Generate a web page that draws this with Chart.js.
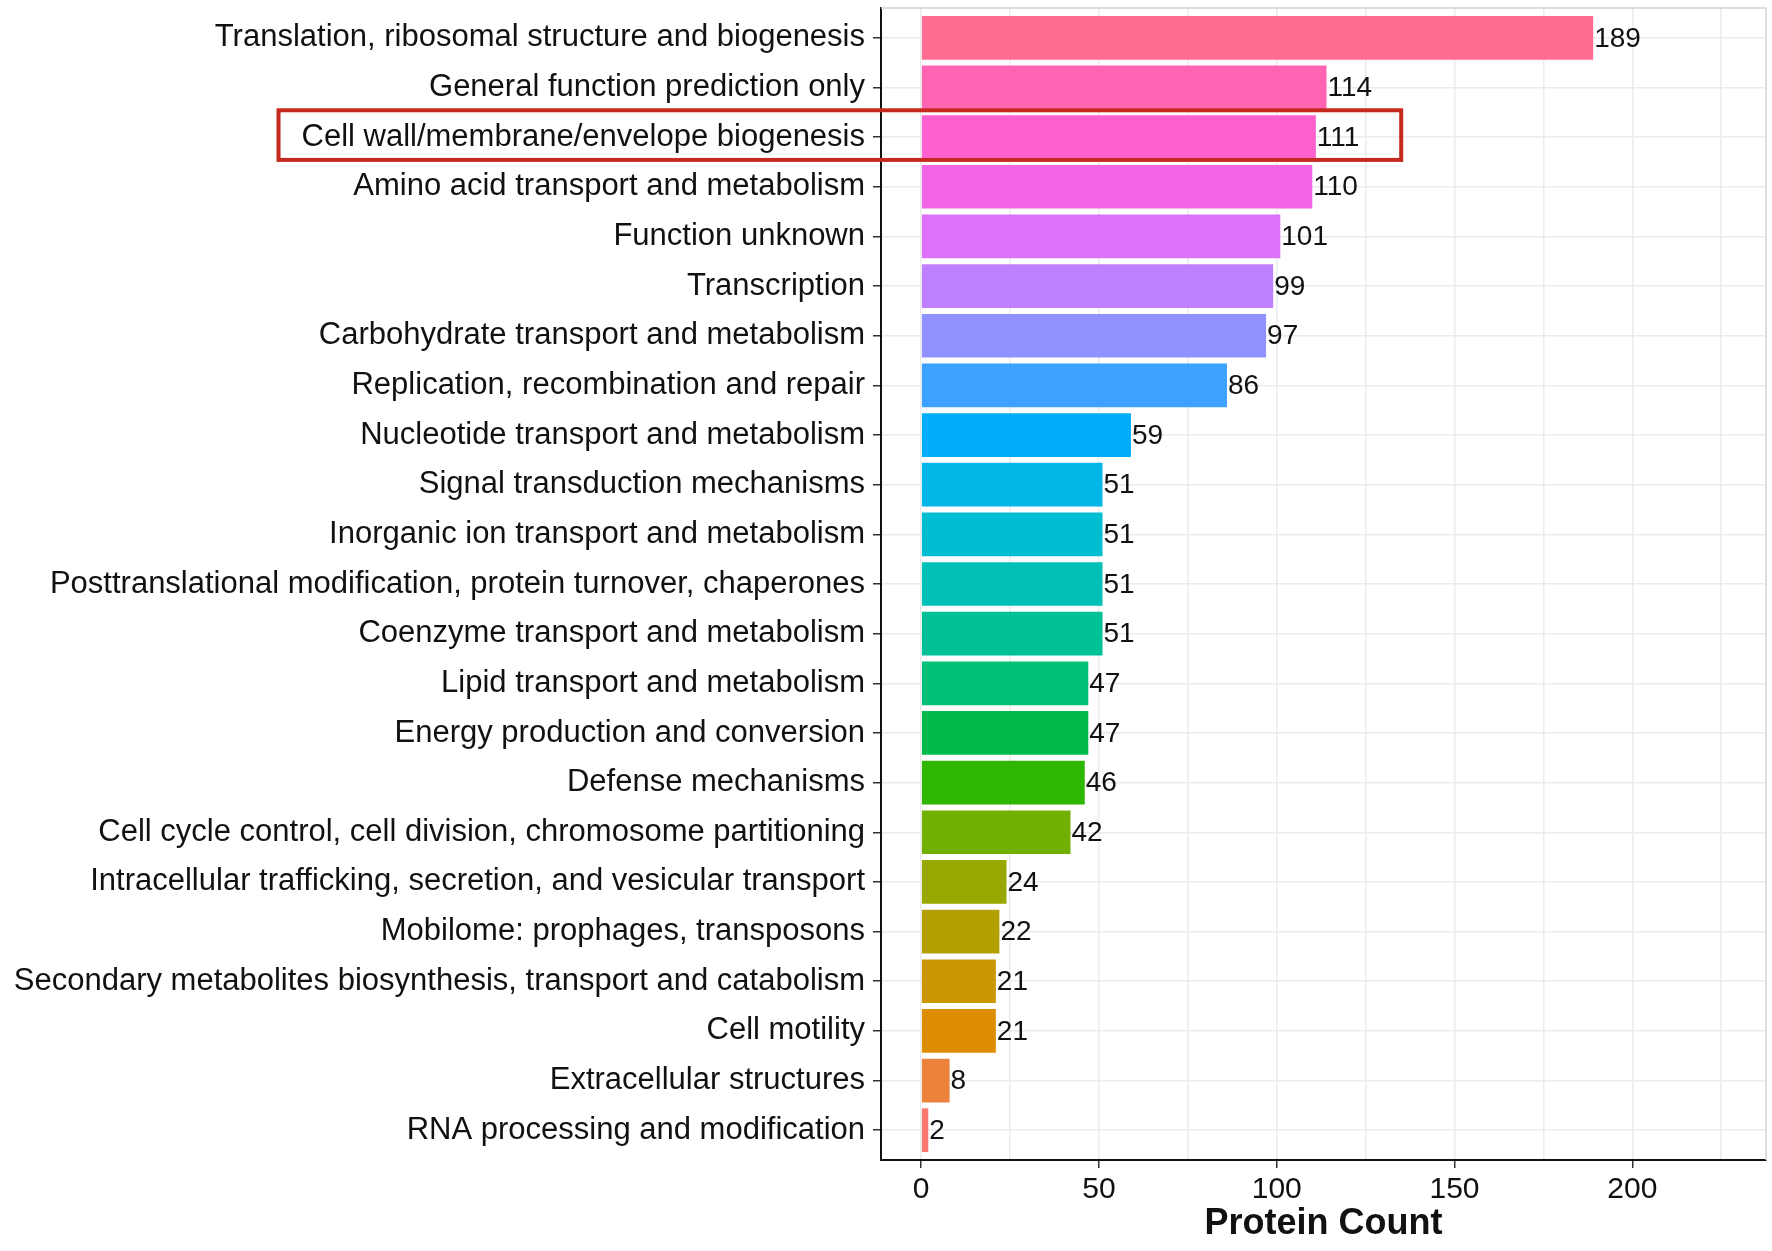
<!DOCTYPE html>
<html>
<head>
<meta charset="utf-8">
<title>Protein Count</title>
<script src="https://cdn.jsdelivr.net/npm/chart.js@4.4.0/dist/chart.umd.min.js"></script>
<style>
  html, body { margin: 0; padding: 0; background: #ffffff; }
  #wrap { width: 1772px; height: 1251px; }
</style>
</head>
<body>
<div id="wrap"><canvas id="cog-chart" width="1772" height="1251"></canvas></div>
<script>
// COG categories, top to bottom as drawn
const categories = [
    'Translation, ribosomal structure and biogenesis',
    'General function prediction only',
    'Cell wall/membrane/envelope biogenesis',
    'Amino acid transport and metabolism',
    'Function unknown',
    'Transcription',
    'Carbohydrate transport and metabolism',
    'Replication, recombination and repair',
    'Nucleotide transport and metabolism',
    'Signal transduction mechanisms',
    'Inorganic ion transport and metabolism',
    'Posttranslational modification, protein turnover, chaperones',
    'Coenzyme transport and metabolism',
    'Lipid transport and metabolism',
    'Energy production and conversion',
    'Defense mechanisms',
    'Cell cycle control, cell division, chromosome partitioning',
    'Intracellular trafficking, secretion, and vesicular transport',
    'Mobilome: prophages, transposons',
    'Secondary metabolites biosynthesis, transport and catabolism',
    'Cell motility',
    'Extracellular structures',
    'RNA processing and modification'
];

const proteinCounts = [189, 114, 111, 110, 101, 99, 97, 86, 59, 51, 51, 51, 51, 47, 47, 46, 42, 24, 22, 21, 21, 8, 2];

const xTickValues = [0, 25, 50, 75, 100, 125, 150, 175, 200, 225];
const xLabelStep = 50;

// category that gets the red box
const highlightCategory = 'Cell wall/membrane/envelope biogenesis';
const highlightRightValue = 135;

const FONT = '"Liberation Sans", Arial, Helvetica, sans-serif';
const LABEL_SIZE = 31;

// ggplot-style hue palette (hcl, c=100, l=65)
function hclToHex(h, c, l) {
    const hr = h * Math.PI / 180;
    const u = c * Math.cos(hr), v = c * Math.sin(hr);
    const Xn = 95.047, Yn = 100.0, Zn = 108.883;
    const den = Xn + 15 * Yn + 3 * Zn;
    const un = 4 * Xn / den, vn = 9 * Yn / den;
    const Y = l > 8 ? Yn * Math.pow((l + 16) / 116, 3) : Yn * l / 903.3;
    const up = u / (13 * l) + un, vp = v / (13 * l) + vn;
    const X = 9 * Y * up / (4 * vp);
    const Z = Y * (12 - 3 * up - 20 * vp) / (4 * vp);
    const lin = [
        (3.240479 * X - 1.537150 * Y - 0.498535 * Z) / 100,
        (-0.969256 * X + 1.875992 * Y + 0.041556 * Z) / 100,
        (0.055648 * X - 0.204043 * Y + 1.057311 * Z) / 100
    ];
    return '#' + lin.map(ch => {
        let g = ch <= 0.0031308 ? 12.92 * ch : 1.055 * Math.pow(ch, 1 / 2.4) - 0.055;
        g = Math.min(1, Math.max(0, g));
        return Math.round(g * 255).toString(16).padStart(2, '0');
    }).join('');
}

const n = categories.length;
// first level (bottom bar) gets hue 15
const barColors = categories.map((c, i) => hclToHex(15 + (n - 1 - i) * 360 / n, 100, 65));

// value labels at the end of each bar
const valueLabels = {
    id: 'valueLabels',
    afterDatasetsDraw(chart) {
        const ctx = chart.ctx;
        const meta = chart.getDatasetMeta(0);
        ctx.save();
        ctx.font = '28px ' + FONT;
        ctx.fillStyle = '#111111';
        ctx.textAlign = 'left';
        ctx.textBaseline = 'middle';
        meta.data.forEach((bar, i) => {
            ctx.fillText(String(proteinCounts[i]), bar.x + 1, bar.y + 1);
        });
        ctx.restore();
    }
};

// light panel border on top/right + red highlight box
const panelExtras = {
    id: 'panelExtras',
    afterDraw(chart) {
        const ctx = chart.ctx;
        const area = chart.chartArea;
        const xScale = chart.scales.x;
        const yScale = chart.scales.y;
        ctx.save();
        ctx.strokeStyle = '#d4d4d4';
        ctx.lineWidth = 1.5;
        ctx.beginPath();
        ctx.moveTo(area.left, area.top);
        ctx.lineTo(area.right, area.top);
        ctx.lineTo(area.right, area.bottom);
        ctx.stroke();

        const idx = categories.indexOf(highlightCategory);
        const yc = yScale.getPixelForValue(idx);
        const rowH = Math.abs(yScale.getPixelForValue(1) - yScale.getPixelForValue(0));
        ctx.font = LABEL_SIZE + 'px ' + FONT;
        const labelRight = area.left - 16;
        const textW = ctx.measureText(highlightCategory).width;
        const left = labelRight - textW - 23;
        const right = xScale.getPixelForValue(highlightRightValue);
        ctx.strokeStyle = '#c62a1e';
        ctx.lineWidth = 4;
        ctx.strokeRect(left, yc - rowH / 2 - 2, right - left, rowH);
        ctx.restore();
    }
};

new Chart(document.getElementById('cog-chart').getContext('2d'), {
    type: 'bar',
    data: {
        datasets: [{
            label: 'Protein Count',
            data: proteinCounts.map((v, i) => ({ x: v, y: i })),
            backgroundColor: barColors,
            borderWidth: 0,
            barPercentage: 0.88,
            categoryPercentage: 1.0
        }]
    },
    options: {
        indexAxis: 'y',
        responsive: false,
        animation: false,
        devicePixelRatio: 1,
        layout: { padding: { top: 8, right: 6, left: 0, bottom: 0 } },
        plugins: {
            legend: { display: false },
            tooltip: { enabled: false }
        },
        scales: {
            y: {
                type: 'linear',
                reverse: true,
                offset: false,
                min: -0.6,
                max: n - 1 + 0.6,
                afterBuildTicks: scale => {
                    scale.ticks = categories.map((c, i) => ({ value: i }));
                },
                afterFit: scale => {
                    scale.width = 881;
                    scale.paddingTop = 0;
                    scale.paddingBottom = 0;
                },
                ticks: {
                    callback: value => categories[value],
                    font: { family: FONT, size: LABEL_SIZE },
                    color: '#111111',
                    padding: 8
                },
                grid: {
                    offset: false,
                    color: '#ebebeb',
                    lineWidth: 1.5,
                    tickColor: '#333333',
                    tickLength: 8,
                    tickWidth: 1.5
                },
                border: { display: true, color: '#111111', width: 2 }
            },
            x: {
                type: 'linear',
                min: -11.3,
                max: 237.6,
                afterBuildTicks: scale => {
                    scale.ticks = xTickValues.map(v => ({ value: v }));
                },
                afterFit: scale => { scale.height = 91; },
                ticks: {
                    callback: value => (value % xLabelStep === 0 ? String(value) : ''),
                    font: { family: FONT, size: 30 },
                    color: '#111111',
                    padding: 4,
                    maxRotation: 0,
                    autoSkip: false
                },
                grid: {
                    color: '#ebebeb',
                    lineWidth: 1.5,
                    tickColor: ctx => (ctx.tick && ctx.tick.value % xLabelStep === 0 ? '#333333' : 'rgba(0,0,0,0)'),
                    tickLength: 8,
                    tickWidth: 1.5
                },
                border: { display: true, color: '#111111', width: 2 },
                title: {
                    display: true,
                    text: 'Protein Count',
                    color: '#111111',
                    font: { family: FONT, size: 36, weight: 'bold' },
                    padding: { top: 0, bottom: 5 }
                }
            }
        }
    },
    plugins: [valueLabels, panelExtras]
});
</script>
</body>
</html>
